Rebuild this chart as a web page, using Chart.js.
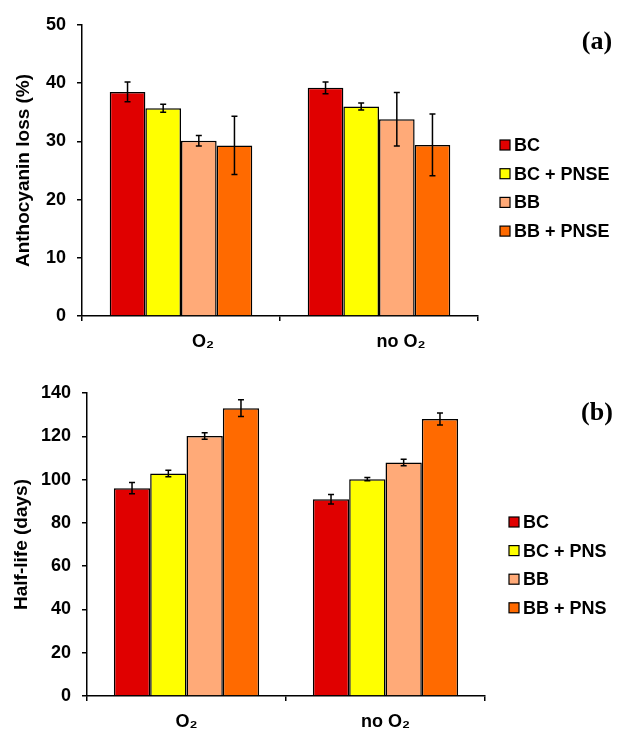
<!DOCTYPE html>
<html>
<head>
<meta charset="utf-8">
<script src="https://cdn.jsdelivr.net/npm/chart.js@4.4.1/dist/chart.umd.min.js"></script>
<style>
  body { margin: 0; background: #fff; }
  .panel { position: absolute; left: 0; width: 623px; }
</style>
</head>
<body>
<div class="panel" style="top:0;height:360px"><canvas id="chartA" width="623" height="360"></canvas></div>
<div class="panel" style="top:360px;height:372px"><canvas id="chartB" width="623" height="372"></canvas></div>
<script>
// categories on the x axis
const categories = ["O\u2082", "no O\u2082"];

// (a) anthocyanin loss (%)
const labelsA = ["BC", "BC + PNSE", "BB", "BB + PNSE"];
const lossBC = [38.5, 39.2];
const lossBCPNSE = [35.7, 36.0];
const lossBB = [30.1, 33.8];
const lossBBPNSE = [29.3, 29.4];
const lossBCErr = [1.7, 1.0];
const lossBCPNSEErr = [0.7, 0.6];
const lossBBErr = [0.9, 4.6];
const lossBBPNSEErr = [5.0, 5.3];
const ticksA = [0, 10, 20, 30, 40, 50];

// (b) half-life (days)
const labelsB = ["BC", "BC + PNS", "BB", "BB + PNS"];
const halfBC = [96.0, 90.9];
const halfBCPNS = [102.8, 100.2];
const halfBB = [120.1, 107.9];
const halfBBPNS = [133.0, 128.0];
const halfBCErr = [2.6, 2.2];
const halfBCPNSErr = [1.5, 0.8];
const halfBBErr = [1.5, 1.5];
const halfBBPNSErr = [3.9, 2.8];
const ticksB = [0, 20, 40, 60, 80, 100, 120, 140];

const colors = ["#e00000", "#ffff00", "#ffaa78", "#ff6a00"];
const FONT = "'Liberation Sans', Arial, sans-serif";

// draws the +/- error whiskers on top of each bar
const errorBars = {
    id: "errorBars",
    afterDatasetsDraw(chart) {
        const ctx = chart.ctx;
        const y = chart.scales.y;
        ctx.save();
        ctx.strokeStyle = "#000";
        ctx.lineWidth = 1.5;
        chart.data.datasets.forEach((ds, i) => {
            chart.getDatasetMeta(i).data.forEach((bar, j) => {
                const top = y.getPixelForValue(ds.data[j] + ds.errors[j]);
                const bot = y.getPixelForValue(ds.data[j] - ds.errors[j]);
                ctx.beginPath();
                ctx.moveTo(bar.x, top); ctx.lineTo(bar.x, bot);
                ctx.moveTo(bar.x - 3, top); ctx.lineTo(bar.x + 3, top);
                ctx.moveTo(bar.x - 3, bot); ctx.lineTo(bar.x + 3, bot);
                ctx.stroke();
            });
        });
        ctx.restore();
    }
};

// legend on the right side + panel letter
const sideLegend = {
    id: "sideLegend",
    afterDraw(chart, args, opts) {
        const ctx = chart.ctx;
        ctx.save();
        ctx.font = "bold 18px " + FONT;
        ctx.textBaseline = "middle";
        ctx.textAlign = "left";
        chart.data.datasets.forEach((ds, i) => {
            const cy = opts.y + i * opts.step;
            ctx.fillStyle = ds.backgroundColor;
            ctx.fillRect(opts.x, cy - 5, 10, 10);
            ctx.strokeStyle = "#000";
            ctx.lineWidth = 1.2;
            ctx.strokeRect(opts.x, cy - 5, 10, 10);
            ctx.fillStyle = "#000";
            ctx.fillText(ds.label, opts.x + 14, cy + 1);
        });
        ctx.font = "bold 26px 'Liberation Serif', 'Times New Roman', serif";
        ctx.textAlign = "center";
        ctx.fillText(opts.tag, opts.tagX, opts.tagY);
        ctx.restore();
    }
};

function makeChart(id, labels, series, errors, ticks, yMax, title, lay) {
    const ctx = document.getElementById(id).getContext("2d");
    return new Chart(ctx, {
        type: "bar",
        data: {
            labels: categories,
            datasets: labels.map((lab, i) => ({
                label: lab,
                data: series[i],
                errors: errors[i],
                backgroundColor: colors[i],
                borderColor: "#000",
                borderWidth: 1.5,
                categoryPercentage: lay.catPct,
                barPercentage: 1.0
            }))
        },
        options: {
            responsive: false,
            animation: false,
            layout: { padding: { top: lay.top, right: lay.right, bottom: 0, left: 0 } },
            scales: {
                x: {
                    offset: true,
                    grid: { offset: true, drawOnChartArea: false, tickLength: 5, color: "#000", lineWidth: 1.5 },
                    border: { color: "#000", width: 1.5 },
                    ticks: { color: "#000", font: { family: FONT, size: 18, weight: "bold" }, padding: lay.xPad, labelOffset: lay.labelOffset },
                    afterFit: s => { s.height = lay.xHeight; }
                },
                y: {
                    min: 0,
                    max: yMax,
                    afterBuildTicks: s => { s.ticks = ticks.map(v => ({ value: v })); },
                    grid: { drawOnChartArea: false, tickLength: 5, color: "#000", lineWidth: 1.5 },
                    border: { color: "#000", width: 1.5 },
                    ticks: { color: "#000", font: { family: FONT, size: 18, weight: "bold" }, padding: 11 },
                    title: { display: true, text: title, color: "#000", font: { family: FONT, size: 19, weight: "bold" }, padding: { top: lay.titlePad, bottom: 0 } },
                    afterFit: s => { s.width = lay.yWidth; }
                }
            },
            plugins: {
                legend: { display: false },
                tooltip: { enabled: false },
                sideLegend: lay.legend
            }
        },
        plugins: [errorBars, sideLegend]
    });
}

makeChart("chartA", labelsA,
    [lossBC, lossBCPNSE, lossBB, lossBBPNSE],
    [lossBCErr, lossBCPNSEErr, lossBBErr, lossBBPNSEErr],
    ticksA, 50, "Anthocyanin loss (%)",
    { top: 25, right: 145, yWidth: 82, xHeight: 44, xPad: 10, labelOffset: 22, catPct: 0.72, titlePad: 12,
      legend: { x: 500, y: 145, step: 28.7, tag: "(a)", tagX: 597, tagY: 42 } });

makeChart("chartB", labelsB,
    [halfBC, halfBCPNS, halfBB, halfBBPNS],
    [halfBCErr, halfBCPNSErr, halfBBErr, halfBBPNSErr],
    ticksB, 140, "Half-life (days)",
    { top: 33, right: 138, yWidth: 87, xHeight: 36, xPad: 10, labelOffset: 0, catPct: 0.73, titlePad: 10,
      legend: { x: 509, y: 162, step: 28.6, tag: "(b)", tagX: 597, tagY: 53 } });
</script>
</body>
</html>
